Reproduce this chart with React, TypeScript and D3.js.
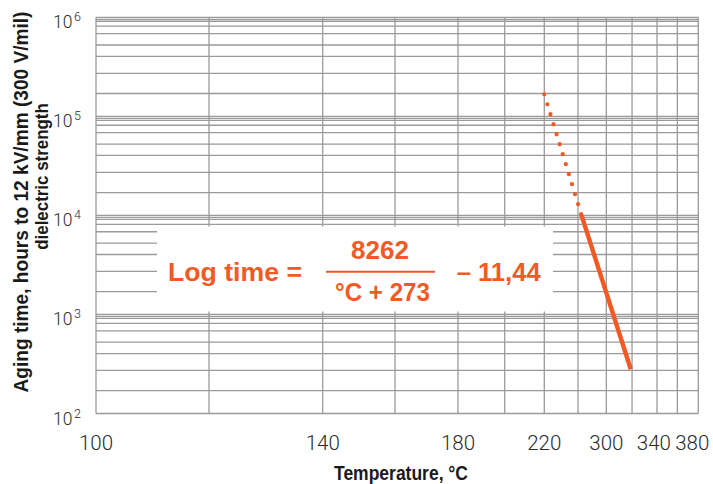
import React from 'react';
import * as d3 from 'd3';

// ---- data ----
const TEMP_GRID = [100, 120, 140, 160, 180, 200, 220, 260, 300, 320, 340, 360, 380];
const TEMP_LABELS = [100, 140, 180, 220, 300, 340, 380];
const DECADE_EXP = [2, 3, 4, 5, 6];
const MINOR_MULT = [1.7, 2.72, 4.03, 5.25, 6.84, 8.13, 9.12, 9.55];
const DOTTED_TEMP = [220, 265];
const DOTTED_HOURS = [167000, 10000];
const SOLID_TEMP = [265, 319];
const SOLID_HOURS = [10000, 280];
const FORMULA_LHS = 'Log time =';
const FORMULA_NUM = '8262';
const FORMULA_DEN = '°C + 273';
const FORMULA_RHS = '– 11,44';
const X_TITLE = 'Temperature, °C';
const Y_TITLE_1 = 'Aging time, hours to 12 kV/mm (300 V/mil)';
const Y_TITLE_2 = 'dielectric strength';

const W = 713;
const H = 484;
const M = { left: 96, right: 698.3, top: 17.3, bottom: 413.5 };
// relative placement of the temperature grid along the (non-uniform) axis
const GRID_FRAC = [0, 0.1876, 0.3764, 0.4964, 0.601, 0.6786, 0.7443, 0.8003, 0.8473, 0.89, 0.9315, 0.9652, 1];

const ORANGE = '#F15A24';
const GRID = '#9a9a9a';
const TEXT = '#2b2b2b';
const BOLD_FONT = '"Liberation Sans", Arial, sans-serif';
const LIGHT_FONT = 'Roboto, "Liberation Sans", sans-serif';

export default function App() {
  const x = d3
    .scaleLinear()
    .domain(TEMP_GRID)
    .range(GRID_FRAC.map((f) => M.left + f * (M.right - M.left)));
  const y = d3.scaleLog().domain([1e2, 1e6]).range([M.bottom, M.top]);

  const majors = DECADE_EXP.map((e) => Math.pow(10, e));
  const minors: number[] = [];
  DECADE_EXP.slice(0, -1).forEach((e) => MINOR_MULT.forEach((m) => minors.push(m * Math.pow(10, e))));

  const line = d3
    .line<[number, number]>()
    .x((d) => x(d[0]))
    .y((d) => y(d[1]));
  const dotted = line(DOTTED_TEMP.map((t, i) => [t, DOTTED_HOURS[i]] as [number, number]));
  const solid = line(SOLID_TEMP.map((t, i) => [t, SOLID_HOURS[i]] as [number, number]));

  // x tick labels with simple right-edge collision avoidance
  const labelW = 33.4;
  const gap = 5;
  const labelX: number[] = new Array(TEMP_LABELS.length);
  let limit = 709;
  for (let i = TEMP_LABELS.length - 1; i >= 0; i--) {
    const c = Math.min(x(TEMP_LABELS[i]), limit - labelW / 2);
    labelX[i] = c;
    limit = c - labelW / 2 - gap;
  }

  // formula box
  const box = { x0: 157, x1: 553, y0: 226.5, y1: 311.5 };

  return (
    <svg width={W} height={H} style={{ position: 'absolute', left: 0, top: 0, background: '#fff' }}>
      <rect x={0} y={0} width={W} height={H} fill="#fff" />
      <g stroke={GRID} strokeWidth={1.3} fill="none">
        {minors.map((v, i) => (
          <line key={'mi' + i} x1={M.left} x2={M.right} y1={y(v)} y2={y(v)} />
        ))}
        {majors.map((v, i) => (
          <line key={'ma' + i} x1={M.left} x2={M.right} y1={y(v)} y2={y(v)} />
        ))}
        {TEMP_GRID.map((t, i) => (
          <line key={'v' + i} x1={x(t)} x2={x(t)} y1={M.top} y2={M.bottom} />
        ))}
      </g>

      {/* formula panel */}
      <rect x={box.x0} y={box.y0} width={box.x1 - box.x0} height={box.y1 - box.y0} fill="#fff" />
      <g fill={ORANGE} fontFamily={BOLD_FONT} fontWeight="bold" fontSize={26}>
        <text x={168} y={281} textLength={134} lengthAdjust="spacingAndGlyphs">{FORMULA_LHS}</text>
        <text x={380} y={259.3} textAnchor="middle">{FORMULA_NUM}</text>
        <line x1={326} x2={435} y1={271.7} y2={271.7} stroke={ORANGE} strokeWidth={2} />
        <text x={335} y={301} textLength={95} lengthAdjust="spacingAndGlyphs">{FORMULA_DEN}</text>
        <text x={456.7} y={281} textLength={84} lengthAdjust="spacingAndGlyphs">{FORMULA_RHS}</text>
      </g>

      {/* data */}
      <path d={dotted || ''} fill="none" stroke={ORANGE} strokeWidth={4.3} strokeLinecap="round" strokeDasharray="0 10.45" />
      <path d={solid || ''} fill="none" stroke={ORANGE} strokeWidth={4.4} />

      {/* tick labels */}
      <g fill={TEXT} fontFamily={LIGHT_FONT} fontWeight={300}>
        {DECADE_EXP.map((e) => (
          <text key={'yl' + e} x={53} y={y(Math.pow(10, e)) + 11} fontSize={17.5}>
            10
            <tspan fontSize={12.5} dx={1.5} dy={-7}>{e}</tspan>
          </text>
        ))}
        {TEMP_LABELS.map((t, i) => (
          <text key={'xl' + t} x={labelX[i]} y={450} fontSize={20.5} textAnchor="middle">
            {t}
          </text>
        ))}
      </g>

      {/* titles */}
      <g fill="#1a1a1a" fontFamily={BOLD_FONT} fontWeight="bold">
        <text x={334} y={479.5} fontSize={19.5} textLength={134} lengthAdjust="spacingAndGlyphs">{X_TITLE}</text>
        <text transform="translate(28,202) rotate(-90) scale(0.955,1)" textAnchor="middle" fontSize={20}>
          {Y_TITLE_1}
        </text>
        <text transform="translate(47.5,176.5) rotate(-90) scale(0.9,1)" textAnchor="middle" fontSize={18.8}>
          {Y_TITLE_2}
        </text>
      </g>
    </svg>
  );
}
